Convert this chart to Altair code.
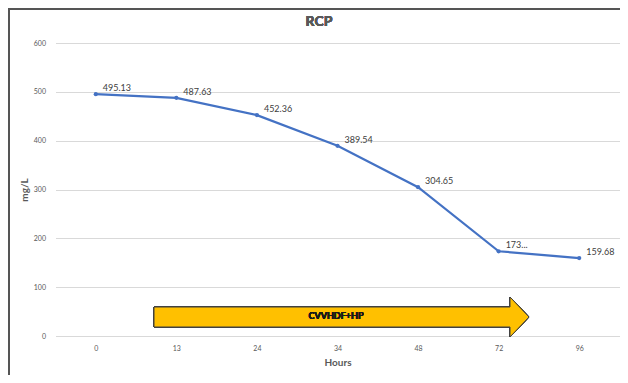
import altair as alt
import pandas as pd

hours = ["0", "13", "24", "34", "48", "72", "96"]
values = [495.13, 487.63, 452.36, 389.54, 304.65, 173.5, 159.68]
labels = ["495.13", "487.63", "452.36", "389.54", "304.65", "173...", "159.68"]

df = pd.DataFrame({"Hours": hours, "val": values, "lab": labels})

W, H = 564, 293
FONT = "Lato"
GRAY = "#595959"

x_enc = alt.X("Hours:N", sort=hours, title="Hours",
              axis=alt.Axis(labelAngle=0, ticks=False, domain=False, grid=False,
                            labelFontSize=7, labelColor=GRAY, labelPadding=8,
                            titleFontSize=10, titleFontWeight="bold", titleColor=GRAY,
                            titlePadding=6, labelFont=FONT, titleFont=FONT))
y_enc = alt.Y("val:Q", title="mg/L",
              scale=alt.Scale(domain=[0, 600], nice=False),
              axis=alt.Axis(values=[0, 100, 200, 300, 400, 500, 600], ticks=False,
                            domain=False, grid=True, gridColor="#d9d9d9",
                            labelFontSize=7, labelColor=GRAY, labelPadding=10,
                            titleFontSize=10, titleFontWeight="bold", titleColor=GRAY,
                            titlePadding=4, labelFont=FONT, titleFont=FONT))

base = alt.Chart(df)

line = base.mark_line(color="#4472C4", strokeWidth=2.25).encode(x=x_enc, y=y_enc)
pts = base.mark_point(color="#4472C4", filled=True, size=18, opacity=1).encode(
    x=alt.X("Hours:N", sort=hours), y="val:Q")
txt = base.mark_text(align="left", baseline="middle", dx=7, dy=-6, fontSize=9,
                     color="#404040", font=FONT).encode(
    x=alt.X("Hours:N", sort=hours), y="val:Q", text="lab:N")

arrow_path = ("M-187.5,-10 L168.5,-10 L168.5,-20 L187.5,0 L168.5,20 "
              "L168.5,10 L-187.5,10 Z")
arrow = base.mark_point(shape=arrow_path, size=4, filled=True, fill="#FFC000",
                        stroke="#404040", strokeWidth=1, opacity=1).encode(
    x=alt.value(286), y=alt.value(274))
arrow_txt = base.mark_text(text="CVVHDF+HP", fontSize=9, fontWeight="bold",
                           color="#1a1a1a", font=FONT, baseline="middle").encode(
    x=alt.value(280.5), y=alt.value(273))

title = base.mark_text(text="RCP", fontSize=14, fontWeight="bold", color=GRAY,
                       font=FONT, baseline="middle").encode(
    x=alt.value(263.5), y=alt.value(-21))

top_border = base.mark_rule(color="#555555", strokeWidth=2).encode(
    x=alt.value(-47), x2=alt.value(W + 20), y=alt.value(-34))
left_border = base.mark_rule(color="#555555", strokeWidth=2).encode(
    x=alt.value(-46.5), y=alt.value(-35), y2=alt.value(H + 60))

chart = alt.layer(line, pts, txt, arrow, arrow_txt, title, top_border, left_border).properties(
    width=W, height=H,
    autosize=alt.AutoSizeParams(type="none"),
    padding={"left": 47.5, "top": 35, "right": 0, "bottom": 39},
    background="white",
).configure_view(stroke=None)

chart.save("out.html", embed_options={"renderer": "svg", "actions": False})
